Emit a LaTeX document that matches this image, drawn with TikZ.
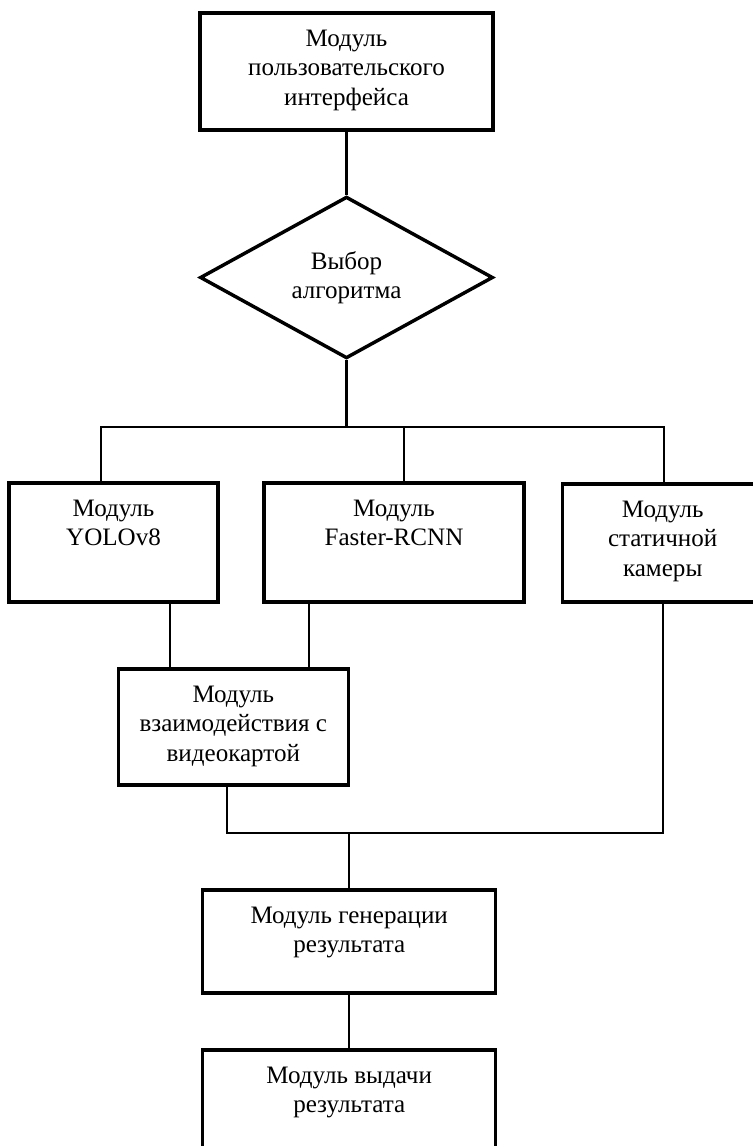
\documentclass[tikz,border=0pt]{standalone}
\usepackage{fontspec}
\setmainfont{Liberation Serif}
\usetikzlibrary{shapes.geometric}

% text block of a module box: fixed size, lines centred and hung from the top
\newcommand{\modtext}[3]{\parbox[c][#2][t]{#1}{\centering\vspace*{9.7pt}\strut#3}}

\tikzset{
  modbox/.style={draw=black, line width=2.6pt, fill=white, inner sep=0pt,
                 font=\fontsize{18.8pt}{22pt}\selectfont},
  choice/.style={draw=black, line width=2.6pt, fill=white, shape=diamond,
                 inner sep=0pt, minimum width=219.75pt, minimum height=120.75pt,
                 align=center, font=\fontsize{18.8pt}{21.5pt}\selectfont},
  wire/.style={draw=black, line width=1.6pt},
}

\begin{document}
\begin{tikzpicture}[x=0.75pt, y=-0.75pt]
  \useasboundingbox (0,0) rectangle (753,1146);
  \fill[white] (0,0) rectangle (753,1146);
  \clip (0,0) rectangle (753,1146);

  % modules
  \node[modbox] (ui) at (346.5,71.5)
    {\modtext{219.75pt}{87.75pt}{Модуль\\ пользовательского\\ интерфейса}};
  \node[choice] (dia) at (346.5,277.5) {Выбор\\ алгоритма};
  \node[modbox] (yolo) at (113.5,542.5)
    {\modtext{156.75pt}{89.25pt}{Модуль\\ YOLOv8}};
  \node[modbox] (faster) at (394,542.5)
    {\modtext{195pt}{89.25pt}{Модуль\\ Faster-RCNN}};
  \node[modbox] (static) at (662.7,543)
    {\modtext{150pt}{88.5pt}{Модуль\\ статичной\\ камеры}};
  \node[modbox] (video) at (233.3,727)
    {\modtext{172.5pt}{87pt}{Модуль\\ взаимодействия с\\ видеокартой}};
  \node[modbox] (gen) at (349.2,941.5)
    {\modtext{219.75pt}{77.25pt}{Модуль генерации\\ результата}};
  \node[modbox] (out) at (349.2,1101.5)
    {\modtext{219.75pt}{77.25pt}{Модуль выдачи\\ результата}};

  % branching below the choice
  \coordinate (split) at (346.5,427);
  \coordinate (tapY) at (100.7,427);
  \coordinate (tapF) at (404,427);
  \coordinate (tapS) at (664,427);

  % feeds into the graphics-card module
  \coordinate (xY) at (170,0);
  \coordinate (xF) at (309,0);

  % merge above result generation
  \coordinate (join) at (349.2,832.7);
  \coordinate (jl) at (227.3,832.7);
  \coordinate (jr) at (663.3,832.7);

  \draw[wire] (ui.south) -- (dia.north);
  \draw[wire] (dia.south) -- (split);
  \draw[wire] (yolo.north -| tapY) -- (tapY) -- (tapS) -- (static.north -| tapS);
  \draw[wire] (tapF) -- (faster.north -| tapF);
  \draw[wire] (yolo.south -| xY) -- (video.north -| xY);
  \draw[wire] (faster.south -| xF) -- (video.north -| xF);
  \draw[wire] (video.south -| jl) -- (jl) -- (jr) -- (static.south -| jr);
  \draw[wire] (join) -- (gen.north);
  \draw[wire] (gen.south) -- (out.north);
\end{tikzpicture}
\end{document}
